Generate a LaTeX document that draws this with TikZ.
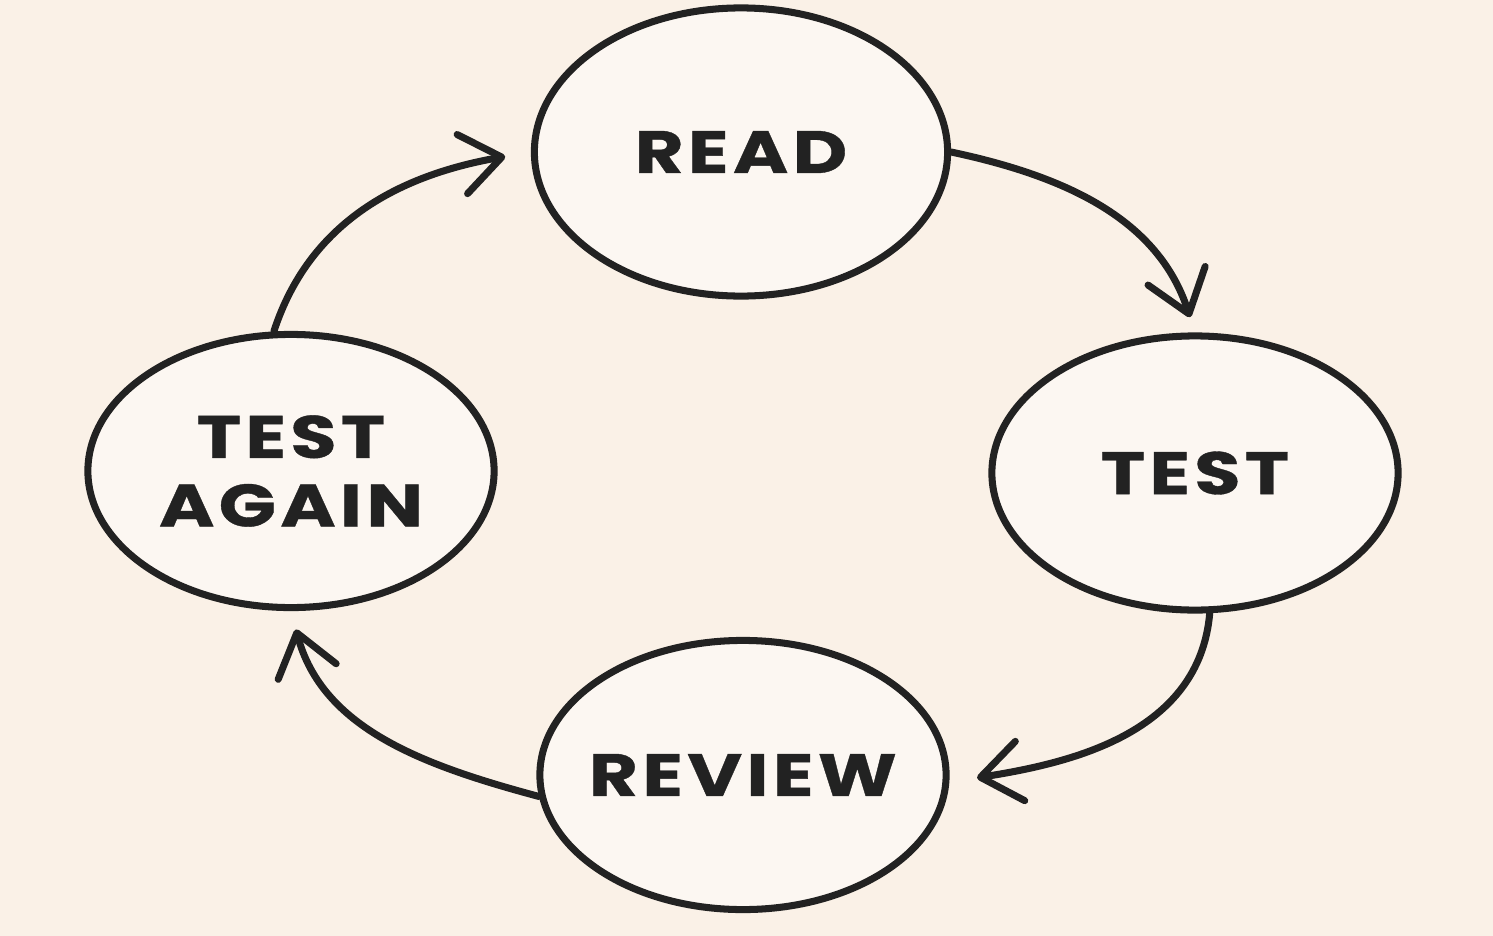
\documentclass[tikz,border=0pt]{standalone}
\usepackage{fontspec}
\usetikzlibrary{shapes.geometric,arrows.meta,positioning}
\newfontfamily\stagefont{Poppins}[LetterSpace=7, FakeStretch=1.26, FakeBold=0.6]
\definecolor{bgcream}{RGB}{250,241,231}
\definecolor{fillcream}{RGB}{252,247,242}
\definecolor{inkdark}{RGB}{34,34,34}

\begin{document}
\begin{tikzpicture}[x=0.01cm, y=-0.01cm,
    stage/.style={shape=ellipse, draw=inkdark, line width=2pt, fill=fillcream,
                  inner xsep=-1cm, inner ysep=0pt,
                  minimum width=4.06cm, minimum height=2.74cm, align=center,
                  font=\stagefont\bfseries\fontsize{17}{19.5}\selectfont, text=inkdark},
    flow/.style={draw=inkdark, line width=2pt, line cap=round,
                 -{Straight Barb[length=4mm, width=6mm, round]}}]
\fill[bgcream] (0,0) rectangle (1493,936);
\useasboundingbox (0,0) rectangle (1493,936);
% the four stages
\node[stage, minimum width=4.13cm, minimum height=2.88cm] (read) at (741,152) {READ};
\node[stage] (test) at (1195,473) {TEST};
\node[stage, minimum height=2.69cm] (review) at (743,775) {REVIEW};
\node[stage, minimum height=2.73cm] (again) at (291,471) {TEST\\AGAIN};
% the cycle
\draw[flow, shorten >=2.6mm] (again.97) to[out=72, in=190] (read.west);
\draw[flow, shorten >=1.6mm] (read.east) to[out=-12, in=108] (test.north);
\draw[flow, shorten >=2.8mm] (test.-84) to[out=-95, in=9] (review.-2);
\draw[flow, shorten >=1.9mm] (review.186) to[out=165, in=285] (again.south);
\end{tikzpicture}
\end{document}
